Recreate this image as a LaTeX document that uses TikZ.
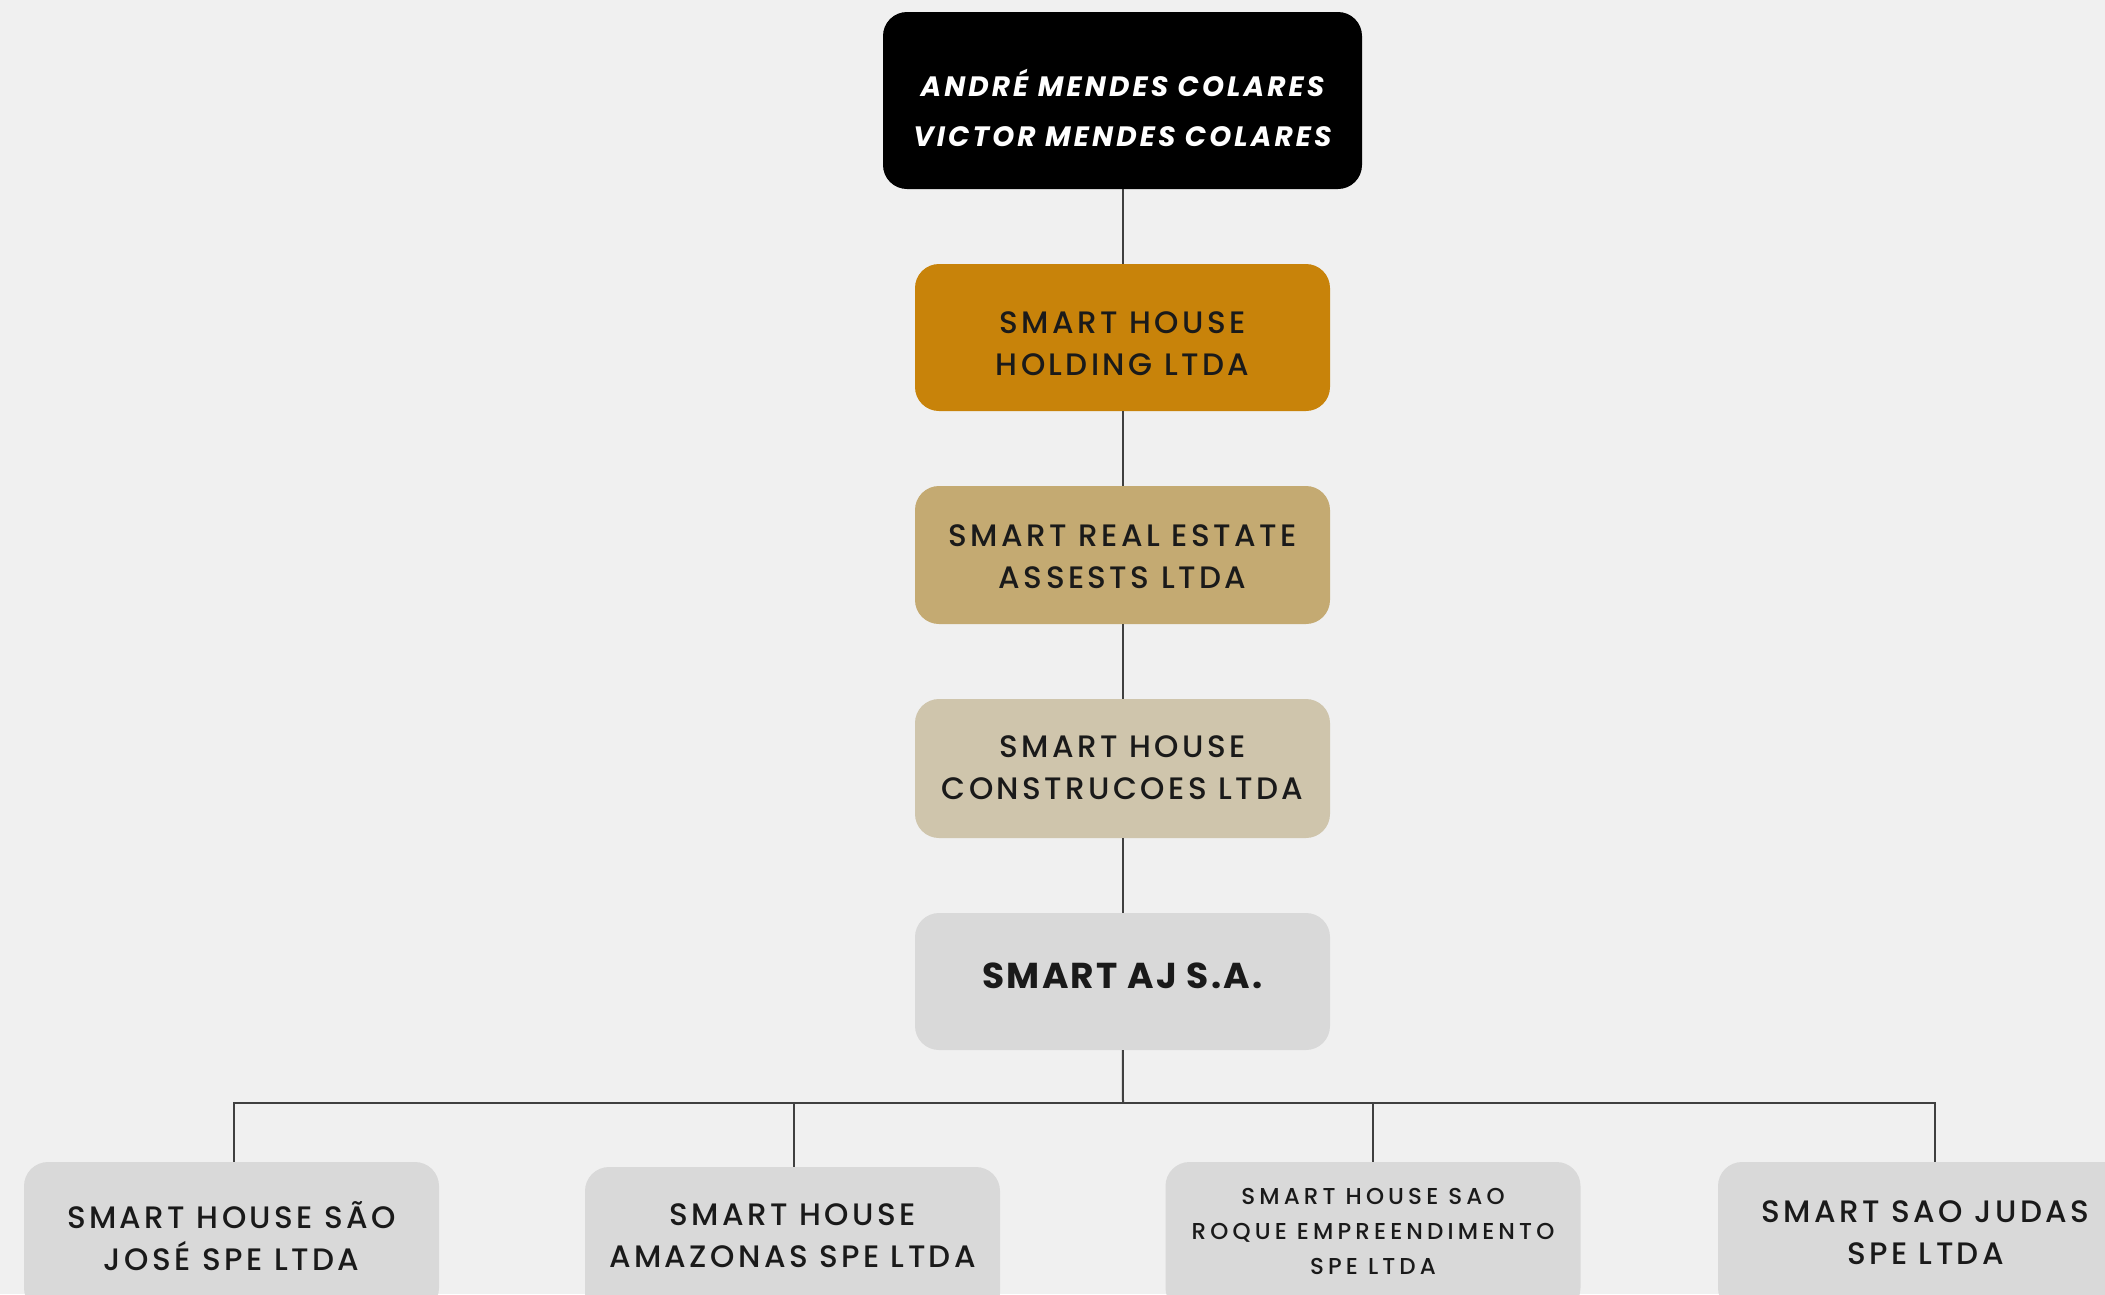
\documentclass[tikz,border=0pt]{standalone}
\usepackage{fontspec}
\setmainfont{Poppins}
\newfontfamily\popsp{Poppins}[UprightFont={* Medium},LetterSpace=11]
\newfontfamily\popsm{Poppins}[UprightFont={* Medium},LetterSpace=18]
\newfontfamily\popbi{Poppins}[BoldFont={* Bold},BoldItalicFont={* Bold Italic},LetterSpace=11]
\newfontfamily\popb{Poppins}[BoldFont={* Bold},LetterSpace=6]
\definecolor{bg}{HTML}{F0F0F0}
\definecolor{holding}{HTML}{C8830A}
\definecolor{realest}{HTML}{C4AA72}
\definecolor{constr}{HTML}{CFC5AC}
\definecolor{greybox}{HTML}{D9D9D9}
\definecolor{ink}{HTML}{1A1A1A}
\definecolor{wire}{HTML}{404040}
\begin{document}
\begin{tikzpicture}[x=1pt,y=-1pt,
  box/.style={rounded corners=24pt, minimum width=415pt, inner sep=0pt},
  lbl/.style={align=center, text=ink, inner sep=0pt},
  midtxt/.style={lbl, font=\popsp\fontsize{31}{42}\selectfont},
  smalltxt/.style={lbl, font=\popsm\fontsize{23}{35}\selectfont},
  wirestyle/.style={draw=wire, line width=2pt}]
\useasboundingbox[fill=bg] (0,0) rectangle (2105,1294);
% boxes
\node[box, fill=black, minimum width=479pt, minimum height=177pt] (top) at (1122.5,100.5) {};
\node[box, fill=holding, minimum height=147pt] (hold) at (1122.5,337.5) {};
\node[box, fill=realest, minimum height=138pt] (real) at (1122.5,555) {};
\node[box, fill=constr, minimum height=139pt] (cons) at (1122.5,768.5) {};
\node[box, fill=greybox, minimum height=137pt] (aj) at (1122.5,981.5) {};
\node[box, fill=greybox, minimum height=150pt] (b1) at (231.5,1237) {};
\node[box, fill=greybox, minimum height=150pt] (b2) at (792.5,1242) {};
\node[box, fill=greybox, minimum height=150pt] (b3) at (1373,1237) {};
\node[box, fill=greybox, minimum height=150pt] (b4) at (1925.5,1237) {};
% texts
\node[lbl, text=white, font=\popbi\bfseries\itshape\fontsize{28}{50}\selectfont] (top-t) at (1122.5,108) {ANDRÉ MENDES COLARES\\VICTOR MENDES COLARES};
\node[midtxt] (hold-t) at (1122.5,343.5) {SMART HOUSE\\HOLDING LTDA};
\node[midtxt] (real-t) at (1122.5,556.5) {SMART REAL ESTATE\\ASSESTS LTDA};
\node[midtxt] (cons-t) at (1122.5,768) {SMART HOUSE\\CONSTRUCOES LTDA};
\node[lbl, font=\popb\bfseries\fontsize{36}{40}\selectfont] (aj-t) at (1122.5,976) {SMART AJ S.A.};
\node[midtxt] (b1-t) at (231.5,1236) {SMART HOUSE SÃO\\JOSÉ SPE LTDA};
\node[midtxt] (b2-t) at (792.5,1236) {SMART HOUSE\\AMAZONAS SPE LTDA};
\node[smalltxt] (b3-t) at (1373,1231) {SMART HOUSE SAO\\ROQUE EMPREENDIMENTO\\SPE LTDA};
\node[midtxt] (b4-t) at (1925.5,1233) {SMART SAO JUDAS\\SPE LTDA};
% connectors
\coordinate (hub) at (1123,1103);
\draw[wirestyle] (top) -- (hold);
\draw[wirestyle] (hold) -- (real);
\draw[wirestyle] (real) -- (cons);
\draw[wirestyle] (cons) -- (aj);
\draw[wirestyle] (aj) -- (hub);
\draw[wirestyle] ([xshift=2.5pt]b1.north) |- (hub);
\draw[wirestyle] (hub) -| ([xshift=9.5pt]b4.north);
\draw[wirestyle] ([xshift=1.5pt]b2.north) -- ([xshift=1.5pt]b2.north |- hub);
\draw[wirestyle] (b3.north) -- (b3.north |- hub);
\end{tikzpicture}
\end{document}
